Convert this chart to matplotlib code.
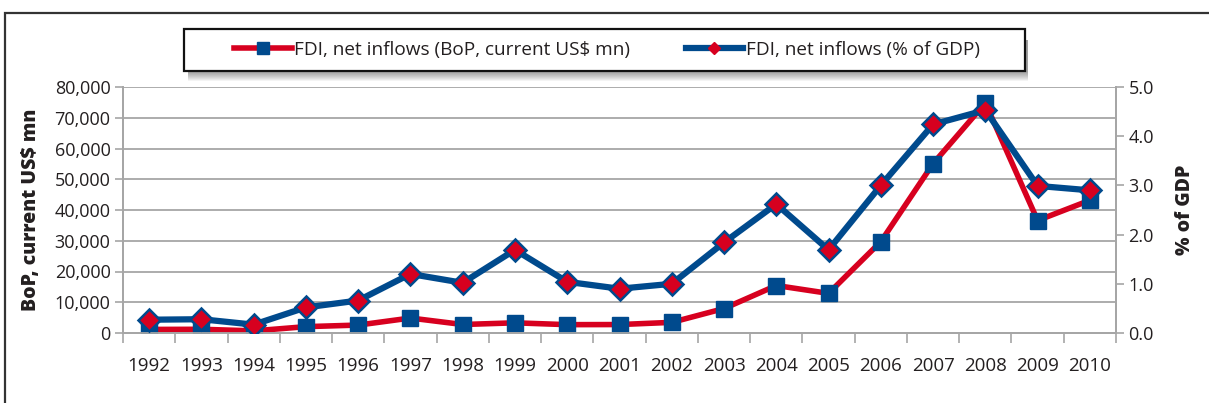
import matplotlib
matplotlib.use("Agg")
import matplotlib.pyplot as plt
from matplotlib.lines import Line2D
from matplotlib.patches import Rectangle

plt.rcParams['font.family'] = ['Open Sans', 'DejaVu Sans']

years = [str(y) for y in range(1992, 2011)]
# FDI net inflows, BoP, current US$ mn
fdi_usd = [1161, 1211, 690, 2066, 2579, 4865, 2761, 3309, 2714, 2748,
           3461, 7958, 15444, 12886, 29701, 55073, 74783, 36583, 43168]
# FDI net inflows, % of GDP
fdi_gdp = [0.27, 0.28, 0.17, 0.52, 0.66, 1.20, 1.02, 1.69, 1.04, 0.90,
           1.00, 1.84, 2.62, 1.69, 3.00, 4.24, 4.53, 2.99, 2.90]

RED = '#D7001F'
BLUE = '#004A8D'
GRID = '#A6A6A6'
TXT = '#231F20'

W, H = 1209, 403
fig = plt.figure(figsize=(W / 100, H / 100), dpi=100)

def px_rect(x0, y0, x1, y1, **kw):
    # rectangle given in pixel coords (origin top-left)
    return Rectangle((x0 / W, 1 - y1 / H), (x1 - x0) / W, (y1 - y0) / H,
                     transform=fig.transFigure, **kw)

# outer frame of the figure panel
fig.patches.append(px_rect(5, 13, 1300, 500, fill=False,
                           edgecolor='#333333', linewidth=1.6))

# legend box with a soft shadow below it
for i in range(10):
    fig.patches.append(px_rect(188, 40, 1028, 72 + i, facecolor='#000000',
                               alpha=0.045, edgecolor='none', zorder=1))
fig.patches.append(px_rect(184, 29, 1025, 71, facecolor='white',
                           edgecolor='#111111', linewidth=1.6, zorder=2))

ax = fig.add_axes([123 / W, 1 - 333 / H, (1116 - 123) / W, (333 - 87) / H])
ax2 = ax.twinx()

x = list(range(len(years)))
ax.plot(x, fdi_usd, color=RED, lw=4, marker='s', ms=12,
        mfc=BLUE, mec=BLUE, solid_joinstyle='round', zorder=3)
ax2.plot(x, fdi_gdp, color=BLUE, lw=4.5, marker='D', ms=11.5,
         mfc=RED, mec=BLUE, mew=1.8, solid_joinstyle='round', zorder=3)

ax.set_xlim(-0.5, len(years) - 0.5)
ax.set_ylim(0, 80000)
ax2.set_ylim(0, 5)

ax.set_yticks(range(0, 80001, 10000))
ax.set_yticklabels(['{:,}'.format(v) for v in range(0, 80001, 10000)])
ax2.set_yticks([0, 1, 2, 3, 4, 5])
ax2.set_yticklabels(['{:.1f}'.format(v) for v in range(6)])

ax.set_xticks([i - 0.5 for i in range(len(years) + 1)])
ax.set_xticklabels([])
ax.set_xticks(x, minor=True)
ax.set_xticklabels(years, minor=True)
ax.tick_params(axis='x', which='major', length=7, width=1.2, color=GRID, direction='out')
ax.tick_params(axis='x', which='minor', length=0, pad=17, labelsize=13.5, labelcolor=TXT)
ax.tick_params(axis='y', length=6, width=1.2, color=GRID, labelsize=13,
               labelcolor=TXT, pad=3)
ax2.tick_params(axis='y', length=6, width=1.2, color=GRID, labelsize=13,
                labelcolor=TXT, pad=3)

ax.grid(axis='y', color=GRID, lw=1.3)
ax.set_axisbelow(True)
for a in (ax, ax2):
    a.spines['top'].set_visible(False)
    for s in ('left', 'right', 'bottom'):
        a.spines[s].set_color(GRID)
        a.spines[s].set_linewidth(1.3)

ax.set_ylabel('BoP, current US$ mn', fontsize=14, fontweight='heavy', color=TXT, labelpad=10)
ax2.set_ylabel('% of GDP', fontsize=14, fontweight='heavy', color=TXT, labelpad=15)

handles = [
    Line2D([], [], color=RED, lw=4, marker='s', ms=9, mfc=BLUE, mec=BLUE),
    Line2D([], [], color=BLUE, lw=4.5, marker='D', ms=6, mfc=RED, mec=RED),
]
labels = ['FDI, net inflows (BoP, current US$ mn)', 'FDI, net inflows (% of GDP)']
leg = fig.legend(handles, labels, loc='center', bbox_to_anchor=(607 / W, 1 - 50 / H),
                 ncol=2, frameon=False, fontsize=13.7, handlelength=3.0,
                 handletextpad=0.15, columnspacing=2.9, borderpad=0,
                 borderaxespad=0)
leg.set_zorder(5)
for t in leg.get_texts():
    t.set_color(TXT)

fig.savefig('out.png', dpi=100)
